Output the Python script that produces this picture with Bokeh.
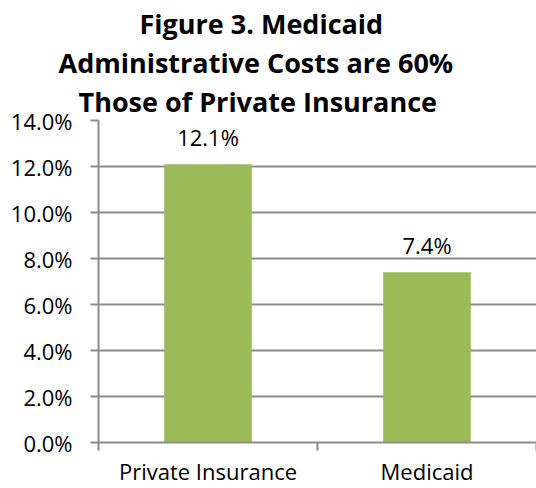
from bokeh.plotting import figure
from bokeh.models import Range1d, FixedTicker, ColumnDataSource, LabelSet, Title
from bokeh.core.properties import value
from bokeh.embed import file_html
from bokeh.resources import INLINE

categories = ["Private Insurance", "Medicaid"]
costs = [12.1, 7.4]
bar_labels = ["12.1%", "7.4%"]
y_ticks = [0, 2, 4, 6, 8, 10, 12, 14]
title_lines = ["Figure 3. Medicaid", "Administrative Costs are 60%", "Those of Private Insurance"]
title_offsets = [41, -40, -20]

xs = [i + 0.5 for i in range(len(categories))]
src = ColumnDataSource(dict(x=xs, top=costs, label=bar_labels))

p = figure(width=536, height=488, output_backend="svg", toolbar_location=None,
           x_range=Range1d(0, len(categories)), y_range=Range1d(0, 14),
           min_border_left=98, min_border_right=0, min_border_top=120, min_border_bottom=45)
p.outline_line_color = None
p.background_fill_color = "white"
p.border_fill_color = "white"

p.vbar(x="x", top="top", width=0.4, bottom=0, source=src, fill_color="#9bbb59", line_color=None)

lbl = LabelSet(x="x", y="top", text="label", source=src, text_align="center", text_baseline="bottom",
               y_offset=12, text_font=value("Open Sans"), text_font_size="22px", text_color="black")
p.add_layout(lbl)

# y axis
p.yaxis.ticker = FixedTicker(ticks=y_ticks)
p.yaxis.major_label_overrides = {t: f"{t:.1f}%" for t in y_ticks}
p.yaxis.axis_line_color = "#8c8c8c"
p.yaxis.axis_line_width = 2
p.yaxis.major_tick_line_color = "#8c8c8c"
p.yaxis.major_tick_line_width = 2
p.yaxis.major_tick_out = 8
p.yaxis.major_tick_in = 0
p.yaxis.minor_tick_line_color = None
p.yaxis.major_label_text_font = "Open Sans"
p.yaxis.major_label_text_font_size = "22px"
p.yaxis.major_label_text_color = "black"
p.yaxis.major_label_standoff = 18

# x axis
p.xaxis.ticker = FixedTicker(ticks=xs, minor_ticks=list(range(len(categories) + 1)))
p.xaxis.major_label_overrides = {x: c for x, c in zip(xs, categories)}
p.xaxis.axis_line_color = "#8c8c8c"
p.xaxis.axis_line_width = 2
p.xaxis.major_tick_line_color = None
p.xaxis.major_tick_out = 0
p.xaxis.major_tick_in = 0
p.xaxis.minor_tick_line_color = "#8c8c8c"
p.xaxis.minor_tick_line_width = 2
p.xaxis.minor_tick_out = 8
p.xaxis.minor_tick_in = 0
p.xaxis.major_label_text_font = "Open Sans"
p.xaxis.major_label_text_font_size = "22px"
p.xaxis.major_label_text_color = "black"
p.xaxis.major_label_standoff = 5

p.xgrid.grid_line_color = None
p.ygrid.ticker = FixedTicker(ticks=y_ticks)
p.ygrid.grid_line_color = "#8c8c8c"
p.ygrid.grid_line_width = 2

for line, off in reversed(list(zip(title_lines, title_offsets))):
    p.add_layout(Title(text=line, align="left", offset=off, text_font="Open Sans",
                       text_font_style="bold", text_font_size="27px", text_color="black",
                       vertical_align="middle", standoff=0), "above")

open("out.html", "w").write(file_html(p, INLINE))
